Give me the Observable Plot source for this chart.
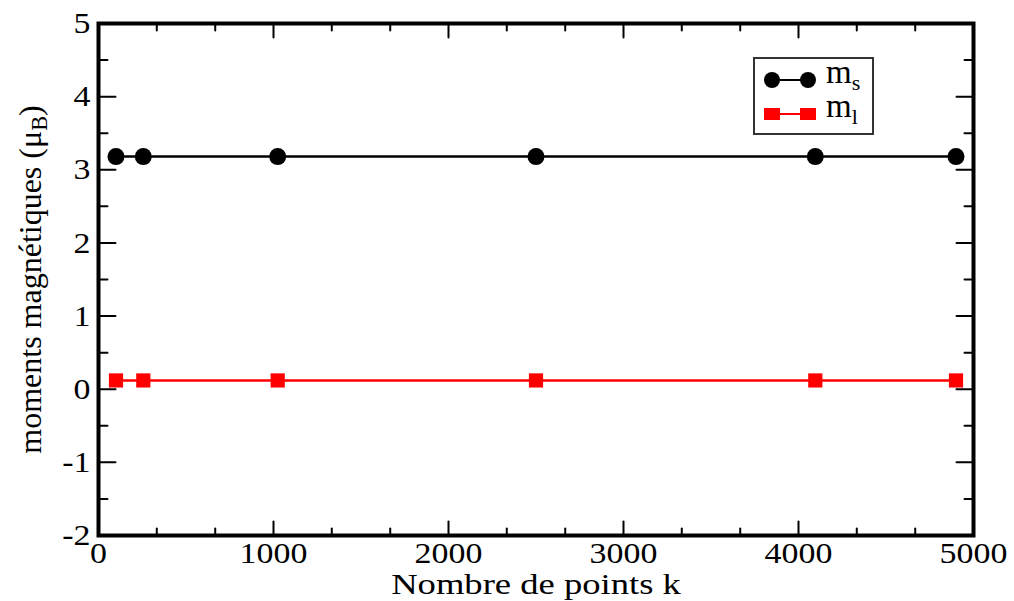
<!DOCTYPE html>
<html><head><meta charset="utf-8">
<script src="https://cdn.jsdelivr.net/npm/d3@7"></script>
<script src="https://cdn.jsdelivr.net/npm/@observablehq/plot@0.6"></script>
<style>
body{margin:0;background:#fff;}
#chart{position:relative;width:1014px;height:601px;}
</style></head><body><div id="chart"></div>
<script>
// ---- data ----
const kPoints = [100, 256, 1024, 2500, 4096, 4900];
const msValues = [3.18, 3.18, 3.18, 3.18, 3.18, 3.18];
const mlValues = [0.12, 0.12, 0.12, 0.12, 0.12, 0.12];
const xTicks = [0, 1000, 2000, 3000, 4000, 5000];
const xMinorTicks = [333, 667, 1333, 1667, 2333, 2667, 3333, 3667, 4333, 4667];
const yTicks = [-2, -1, 0, 1, 2, 3, 4, 5];
const yMinorTicks = [-1.5, -0.5, 0.5, 1.5, 2.5, 3.5, 4.5];
const seriesNames = ["m", "m"];
const seriesSubs = ["s", "l"];
const xLabel = "Nombre de points k";
const yLabelMain = "moments magnétiques (μ";
const yLabelSub = "B";
const yLabelEnd = ")";

const ms = kPoints.map((k, i) => ({k, v: msValues[i]}));
const ml = kPoints.map((k, i) => ({k, v: mlValues[i]}));

const FONT = "'Liberation Serif', 'Times New Roman', serif";
const tickShape = {draw(ctx, l) { ctx.moveTo(0, 0); ctx.lineTo(0, -l); }};
const tick = (data, anchor, rotate, length) =>
  Plot.vector(data, {
    ...(anchor === "bottom" || anchor === "top" ? {x: d => d} : {y: d => d}),
    frameAnchor: anchor, length, rotate, anchor: "start", shape: tickShape,
    stroke: "#000", strokeWidth: 2
  });

const svg = Plot.plot({
  width: 1014, height: 601,
  marginLeft: 98, marginRight: 41, marginTop: 23, marginBottom: 66,
  x: {domain: [0, 5000]},
  y: {domain: [-2, 5]},
  style: {fontFamily: FONT, fontSize: "30px", color: "#000", background: "#fff"},
  marks: [
    Plot.line(ms, {x: "k", y: "v", stroke: "#000", strokeWidth: 2.5}),
    Plot.line(ml, {x: "k", y: "v", stroke: "#ff0000", strokeWidth: 2.5}),
    Plot.dot(ms, {x: "k", y: "v", r: 8.5, fill: "#000"}),
    Plot.dot(ml, {x: "k", y: "v", r: 8, symbol: "square", fill: "#ff0000"}),
    tick(xTicks, "bottom", 0, 14),
    tick(xMinorTicks, "bottom", 0, 7),
    tick(xTicks, "top", 180, 14),
    tick(xMinorTicks, "top", 180, 7),
    tick(yTicks, "left", 90, 17),
    tick(yMinorTicks, "left", 90, 9),
    tick(yTicks, "right", -90, 17),
    tick(yMinorTicks, "right", -90, 9),
    Plot.frame({stroke: "#000", strokeWidth: 4}),
    Plot.axisX(xTicks, {anchor: "bottom", tickSize: 0, tickPadding: 6, fontSize: 30, label: null, tickFormat: d => String(d)}),
    Plot.axisY(yTicks, {anchor: "left", tickSize: 0, tickPadding: 8, fontSize: 30, label: null, tickFormat: d => String(d)}),
    Plot.text([xLabel], {frameAnchor: "bottom", dy: 58, lineAnchor: "bottom", fontSize: 30}),
    Plot.text([yLabelMain], {frameAnchor: "left", textAnchor: "middle", dx: -58, rotate: -90, lineAnchor: "bottom", fontSize: 32})
  ]
});
document.getElementById("chart").appendChild(svg);

const root = d3.select(svg);

// Horizontal stretch of axis/tick text (reference appears stretched horizontally)
root.selectAll("text").each(function() {
  if (this.textContent === yLabelMain) return;
  const len = this.getComputedTextLength();
  const f = this.textContent === xLabel ? 1.22 : 1.13;
  if (len > 0) d3.select(this).attr("textLength", len * f).attr("lengthAdjust", "spacingAndGlyphs");
});

// y label subscript
root.selectAll("text").filter(function() { return this.textContent === yLabelMain; }).each(function() {
  const t = d3.select(this);
  t.append("tspan").attr("dy", "0.3em").attr("font-size", "0.7em").text(yLabelSub);
  t.append("tspan").attr("dy", "-0.21em").attr("font-size", "32px").text(yLabelEnd);
});

// Legend
const lg = root.append("g").attr("font-family", FONT).attr("text-anchor", "start");
lg.append("rect").attr("x", 754).attr("y", 58).attr("width", 119).attr("height", 76)
  .attr("fill", "#fff").attr("stroke", "#333").attr("stroke-width", 2);
const rows = [{y: 80, color: "#000", sym: "circle"}, {y: 114, color: "#ff0000", sym: "square"}];
rows.forEach((r, i) => {
  lg.append("line").attr("x1", 772).attr("x2", 808).attr("y1", r.y).attr("y2", r.y)
    .attr("stroke", r.color).attr("stroke-width", 2);
  [772, 808].forEach(cx => {
    if (r.sym === "circle") lg.append("circle").attr("cx", cx).attr("cy", r.y).attr("r", 8).attr("fill", r.color);
    else lg.append("rect").attr("x", cx - 8).attr("y", r.y - 6).attr("width", 16).attr("height", 12).attr("fill", r.color);
  });
  const t = lg.append("text").attr("x", 826).attr("y", r.y + 3).attr("font-size", 33).attr("text-anchor", "start").text(seriesNames[i]);
  t.append("tspan").attr("dy", "0.3em").attr("font-size", "22px").text(seriesSubs[i]);
});
</script></body></html>
